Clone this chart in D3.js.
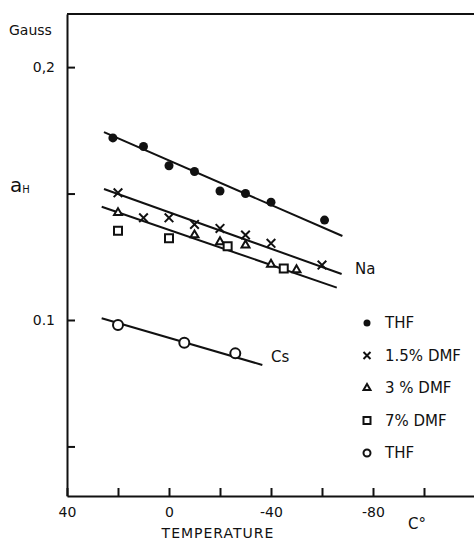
<!DOCTYPE html>
<html>
<head>
<meta charset="utf-8">
<script src="https://cdn.jsdelivr.net/npm/d3@7"></script>
<style>
  body { margin: 0; background: #fff; }
  svg text { font-family: "DejaVu Sans", sans-serif; fill: #111; }
  .axis path, .axis line { stroke: #111; stroke-width: 2; }
  .axis text { font-size: 14px; font-family: "DejaVu Sans", sans-serif; fill: #111; }
</style>
</head>
<body>
<svg id="chart" width="474" height="542"></svg>
<script>
// values: temperature (C) vs proton splitting a_H (gauss)
const thfNaTemps = [22, 10, 0, -10, -20, -30, -40, -61];
const thfNaValues = [0.172, 0.1686, 0.161, 0.1587, 0.151, 0.150, 0.1466, 0.1395];

const dmf15Temps = [20, 10, 0, -10, -20, -30, -40, -60];
const dmf15Values = [0.1503, 0.1404, 0.1404, 0.1378, 0.1362, 0.1336, 0.1303, 0.1217];

const dmf3Temps = [20, -10, -20, -30, -40, -50];
const dmf3Values = [0.1424, 0.1336, 0.1309, 0.1296, 0.122, 0.1198];

const dmf7Temps = [20, 0, -23, -45];
const dmf7Values = [0.1353, 0.1323, 0.1292, 0.1204];

const thfCsTemps = [20, -6, -26];
const thfCsValues = [0.098, 0.091, 0.0868];

// hand drawn fit lines (end points)
const thfNaFitTemps = [25.5, -68];
const thfNaFitValues = [0.1743, 0.1332];
const dmf15FitTemps = [25.5, -67.7];
const dmf15FitValues = [0.1518, 0.1182];
const dmf3FitTemps = [26.4, -65.8];
const dmf3FitValues = [0.1448, 0.1128];
const csFitTemps = [26.4, -36.6];
const csFitValues = [0.1007, 0.0822];

const xTicks = [40, 20, 0, -20, -40, -60, -80, -100];
const yTicks = [0.2, 0.15, 0.1, 0.05];
const legendLabels = ["THF", "1.5% DMF", "3 % DMF", "7% DMF", "THF"];

const svg = d3.select('#chart');

const x = d3.scaleLinear().domain([40, -120]).range([67, 475]);
const y = d3.scaleLinear().domain([0.0304, 0.221]).range([496, 14]);

// axes, ticks pointing inward
svg.append('g')
  .attr('class', 'axis')
  .attr('transform', `translate(0,${y(0.0304)})`)
  .call(d3.axisBottom(x).tickValues(xTicks).tickSizeInner(-8).tickSizeOuter(0).tickPadding(11)
    .tickFormat(d => d % 40 === 0 ? String(d) : ''));

svg.append('g')
  .attr('class', 'axis')
  .attr('transform', `translate(${x(40)},0)`)
  .call(d3.axisLeft(y).tickValues(yTicks).tickSizeInner(-8).tickSizeOuter(0).tickPadding(12)
    .tickFormat(d => d === 0.2 ? '0,2' : d === 0.1 ? '0.1' : ''));

svg.selectAll('.axis .domain').attr('fill', 'none');

// top frame line
svg.append('line')
  .attr('x1', x(40)).attr('x2', x(-120))
  .attr('y1', y(0.221)).attr('y2', y(0.221))
  .attr('stroke', '#111').attr('stroke-width', 2);

// fit lines
const line = d3.line().x(d => x(d[0])).y(d => y(d[1]));
[[thfNaFitTemps, thfNaFitValues], [dmf15FitTemps, dmf15FitValues],
 [dmf3FitTemps, dmf3FitValues], [csFitTemps, csFitValues]].forEach(([t, v]) => {
  svg.append('path')
    .attr('d', line(d3.zip(t, v)))
    .attr('fill', 'none')
    .attr('stroke', '#111')
    .attr('stroke-width', 2);
});

// marker drawer for each series
function drawMarker(g, kind, cx, cy, s) {
  if (kind === 'dot') {
    g.append('circle').attr('cx', cx).attr('cy', cy).attr('r', s).attr('fill', '#111');
  } else if (kind === 'ring') {
    g.append('circle').attr('cx', cx).attr('cy', cy).attr('r', s)
      .attr('fill', '#fff').attr('stroke', '#111').attr('stroke-width', 2);
  } else {
    let type = kind === 'times' ? d3.symbolTimes : kind === 'tri' ? d3.symbolTriangle2 : d3.symbolSquare2;
    let size = kind === 'times' ? (s / 0.6189) ** 2 + 1.7
      : kind === 'tri' ? (s * 1.15 / 0.6824) ** 2
      : (s / 0.4431) ** 2;
    g.append('path')
      .attr('transform', `translate(${cx},${cy})`)
      .attr('d', d3.symbol(type, size)())
      .attr('fill', '#fff')
      .attr('stroke', '#111')
      .attr('stroke-width', 2);
  }
}

const series = [
  { temps: thfNaTemps, values: thfNaValues, kind: 'dot', size: 4.5 },
  { temps: dmf15Temps, values: dmf15Values, kind: 'times', size: 4.3 },
  { temps: dmf3Temps, values: dmf3Values, kind: 'tri', size: 4 },
  { temps: dmf7Temps, values: dmf7Values, kind: 'square', size: 4 },
  { temps: thfCsTemps, values: thfCsValues, kind: 'ring', size: 5 }
];

const marks = svg.append('g');
series.forEach(s => {
  s.temps.forEach((t, i) => drawMarker(marks, s.kind, x(t), y(s.values[i]), s.size));
});

// legend
const legend = svg.append('g');
series.forEach((s, i) => {
  let ly = 323 + i * 32.5;
  drawMarker(legend, s.kind, 367, ly, 3.5);
  legend.append('text')
    .attr('x', 385).attr('y', ly)
    .attr('dy', '0.36em')
    .attr('font-size', 15)
    .text(legendLabels[i]);
});

// labels
svg.append('text').attr('x', 9).attr('y', 35).attr('font-size', 14).text('Gauss');
const aLabel = svg.append('text').attr('x', 10).attr('y', 192).attr('font-size', 20);
aLabel.append('tspan').text('a');
aLabel.append('tspan').attr('font-size', 10).attr('dy', 1).text('H');

svg.append('text').attr('x', 355).attr('y', 274).attr('font-size', 15).text('Na');
svg.append('text').attr('x', 271).attr('y', 362).attr('font-size', 15).text('Cs');

svg.append('text').attr('x', 218).attr('y', 538).attr('font-size', 14)
  .attr('text-anchor', 'middle').attr('letter-spacing', 1).text('TEMPERATURE');
svg.append('text').attr('x', 408).attr('y', 529).attr('font-size', 15).text('C°');
</script>
</body>
</html>
